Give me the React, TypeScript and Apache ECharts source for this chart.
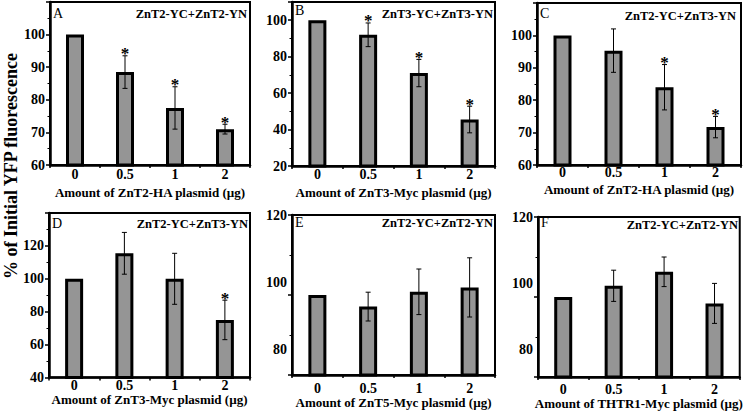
import React, { useEffect, useRef } from 'react';
import * as echarts from 'echarts';

// ---------- data ----------
const doses = ['0', '0.5', '1', '2'];

const meanA = [100, 88.5, 77.5, 71];
const errA = [0, 5, 6.5, 1.5];
const sigA = [0, 1, 1, 1];

const meanB = [100, 92, 71, 45.5];
const errB = [0, 6.5, 7.5, 7.3];
const sigB = [0, 1, 1, 1];

const meanC = [100, 95.3, 84, 71.7];
const errC = [0, 6.7, 7, 3.3];
const sigC = [0, 0, 1, 1];

const meanD = [100, 115.5, 100, 75];
const errD = [0, 12.7, 15.5, 12];
const sigD = [0, 0, 0, 1];

const meanE = [100, 97.1, 100.8, 101.9];
const errE = [0, 3.6, 5.7, 7.4];
const sigE = [0, 0, 0, 0];

const meanF = [100, 102.8, 106.3, 98.4];
const errF = [0, 3.9, 3.7, 5];
const sigF = [0, 0, 0, 0];

const panelLetters = ['A', 'B', 'C', 'D', 'E', 'F'];
const panelTitles = [
  'ZnT2-YC+ZnT2-YN',
  'ZnT3-YC+ZnT3-YN',
  'ZnT2-YC+ZnT3-YN',
  'ZnT2-YC+ZnT3-YN',
  'ZnT2-YC+ZnT2-YN',
  'ZnT2-YC+ZnT2-YN',
];
const xTitles = [
  'Amount of ZnT2-HA plasmid (µg)',
  'Amount of ZnT3-Myc plasmid (µg)',
  'Amount of ZnT2-HA plasmid (µg)',
  'Amount of ZnT3-Myc plasmid (µg)',
  'Amount of ZnT5-Myc plasmid (µg)',
  'Amount of THTR1-Myc plasmid (µg)',
];
const yTitle = '% of Initial YFP fluorescence';

const yMins = [60, 20, 60, 40, 80, 80];
const yMaxs = [110, 110, 110, 140, 120, 120];
const yIntervals = [10, 20, 10, 20, 20, 20];
const yLabelTops = [100, 100, 100, 120, 120, 120];

// panels E and F: the printed tick labels sit off their ticks in the original
const labelTextsEF = [80, 100, 120];
const labelSpotsE = [86.3, 103.1, 120];
const labelSpotsF = [86.8, 103.4, 120];

const means = [meanA, meanB, meanC, meanD, meanE, meanF];
const errs = [errA, errB, errC, errD, errE, errF];
const sigs = [sigA, sigB, sigC, sigD, sigE, sigF];
const labelSpots: (number[] | null)[] = [null, null, null, null, labelSpotsE, labelSpotsF];

// ---------- layout (px) ----------
const layout = [
  { l: 50, t: 2, r: 250, b: 165, lm: 2, ng: 20.5, ly: 11, ty: 12, tr: 3 },
  { l: 292, t: 2, r: 495, b: 166, lm: 1.5, ng: 19.5, ly: 8, ty: 12, tr: 2 },
  { l: 537, t: 3, r: 741, b: 165, lm: 0.5, ng: 18, ly: 10, ty: 13, tr: 5 },
  { l: 49, t: 213, r: 250, b: 377.5, lm: 1, ng: 13, ly: 10, ty: 11, tr: 2 },
  { l: 292, t: 215, r: 495, b: 375, lm: 6, ng: 19, ly: 7, ty: 8, tr: 2 },
  { l: 538, t: 217, r: 741, b: 377, lm: 5, ng: 18, ly: 5, ty: 8, tr: 3 },
];

const FONT = 'Liberation Serif';

function buildOption() {
  const grid: any[] = [];
  const xAxis: any[] = [];
  const yAxis: any[] = [];
  const series: any[] = [];
  const graphic: any[] = [];

  layout.forEach((g, i) => {
    grid.push({
      left: g.l,
      top: g.t,
      width: g.r - g.l,
      height: g.b - g.t,
      show: true,
      borderColor: '#000',
      borderWidth: 2,
      backgroundColor: 'transparent',
    });
    xAxis.push({
      gridIndex: i,
      type: 'category',
      data: doses,
      boundaryGap: true,
      axisLine: { lineStyle: { color: '#000', width: 2.5 } },
      axisTick: { show: true, length: 3, lineStyle: { color: '#000', width: 1.5 } },
      axisLabel: {
        color: '#000',
        fontFamily: FONT,
        fontWeight: 'bold',
        fontSize: 14,
        margin: g.lm,
      },
      name: xTitles[i],
      nameLocation: 'middle',
      nameGap: g.ng,
      nameTextStyle: { color: '#000', fontFamily: FONT, fontWeight: 'bold', fontSize: 13 },
      splitLine: { show: false },
    });
    const spots = labelSpots[i];
    const top = yLabelTops[i];
    const yLabel: any = {
      color: '#000',
      fontFamily: FONT,
      fontWeight: 'bold',
      fontSize: 14,
      margin: 5,
      formatter: (v: number) => {
        if (spots) {
          const k = spots.findIndex((s) => Math.abs(s - v) < 0.05);
          return k >= 0 ? String(labelTextsEF[k]) : '';
        }
        return v > top ? '' : String(v);
      },
    };
    if (spots) yLabel.customValues = spots;
    yAxis.push({
      gridIndex: i,
      type: 'value',
      min: yMins[i],
      max: yMaxs[i],
      interval: yIntervals[i],
      axisLine: { show: true, lineStyle: { color: '#000', width: 2.5 } },
      axisTick: { show: true, length: 4, lineStyle: { color: '#000', width: 1.5 } },
      minorTick: { show: true, splitNumber: 2, length: 2.5, lineStyle: { color: '#000', width: 1 } },
      splitLine: { show: false },
      minorSplitLine: { show: false },
      axisLabel: yLabel,
    });
    series.push({
      type: 'bar',
      xAxisIndex: i,
      yAxisIndex: i,
      data: means[i],
      barWidth: 18,
      itemStyle: { color: '#959595', borderColor: '#000', borderWidth: 3 },
      silent: true,
    });
    series.push({
      type: 'custom',
      xAxisIndex: i,
      yAxisIndex: i,
      z: 5,
      clip: false,
      encode: { x: 0, y: 1 },
      data: means[i].map((m, k) => [k, m, errs[i][k], sigs[i][k]]),
      renderItem: (params: any, api: any) => {
        const k = api.value(0);
        const m = api.value(1);
        const e = api.value(2);
        const s = api.value(3);
        const mid = api.coord([k, m]);
        const hi = api.coord([k, m + e]);
        const lo = api.coord([k, m - e]);
        const cx = mid[0];
        const cap = 2.5;
        const children: any[] = [];
        if (e > 0) {
          children.push({
            type: 'line',
            shape: { x1: cx, y1: hi[1], x2: cx, y2: lo[1] },
            style: { stroke: '#000', lineWidth: 1 },
          });
          children.push({
            type: 'line',
            shape: { x1: cx - cap, y1: hi[1], x2: cx + cap, y2: hi[1] },
            style: { stroke: '#000', lineWidth: 1 },
          });
          children.push({
            type: 'line',
            shape: { x1: cx - cap, y1: lo[1], x2: cx + cap, y2: lo[1] },
            style: { stroke: '#000', lineWidth: 1 },
          });
        }
        if (s) {
          children.push({
            type: 'text',
            x: cx,
            y: hi[1] - 2,
            style: {
              text: '*',
              font: `bold 17px "${FONT}"`,
              fill: '#000',
              textAlign: 'center',
              textVerticalAlign: 'middle',
              align: 'center',
              verticalAlign: 'middle',
            },
          });
        }
        return { type: 'group', children };
      },
      silent: true,
    });
    graphic.push({
      type: 'text',
      x: g.l + 3,
      y: g.t + g.ly,
      style: {
        text: panelLetters[i],
        font: `14px "${FONT}"`,
        fill: '#000',
        textAlign: 'left',
        textVerticalAlign: 'middle',
        align: 'left',
        verticalAlign: 'middle',
      },
    });
    graphic.push({
      type: 'text',
      x: g.r - g.tr,
      y: g.t + g.ty,
      style: {
        text: panelTitles[i],
        font: `bold 12.5px "${FONT}"`,
        fill: '#000',
        textAlign: 'right',
        textVerticalAlign: 'middle',
        align: 'right',
        verticalAlign: 'middle',
      },
    });
  });

  graphic.push({
    type: 'text',
    x: 11,
    y: 166,
    rotation: Math.PI / 2,
    style: {
      text: yTitle,
      font: `bold 18px "${FONT}"`,
      fill: '#000',
      textAlign: 'center',
      textVerticalAlign: 'middle',
      align: 'center',
      verticalAlign: 'middle',
    },
  });

  return {
    animation: false,
    backgroundColor: '#fff',
    grid,
    xAxis,
    yAxis,
    series,
    graphic,
  };
}

export default function App() {
  const ref = useRef<HTMLDivElement>(null);
  useEffect(() => {
    if (!ref.current) return;
    const chart = echarts.init(ref.current, null, { renderer: 'svg' });
    chart.setOption(buildOption() as any);
    return () => chart.dispose();
  }, []);
  return (
    <div
      ref={ref}
      style={{ position: 'fixed', left: 0, top: 0, width: 745, height: 411 }}
    />
  );
}
